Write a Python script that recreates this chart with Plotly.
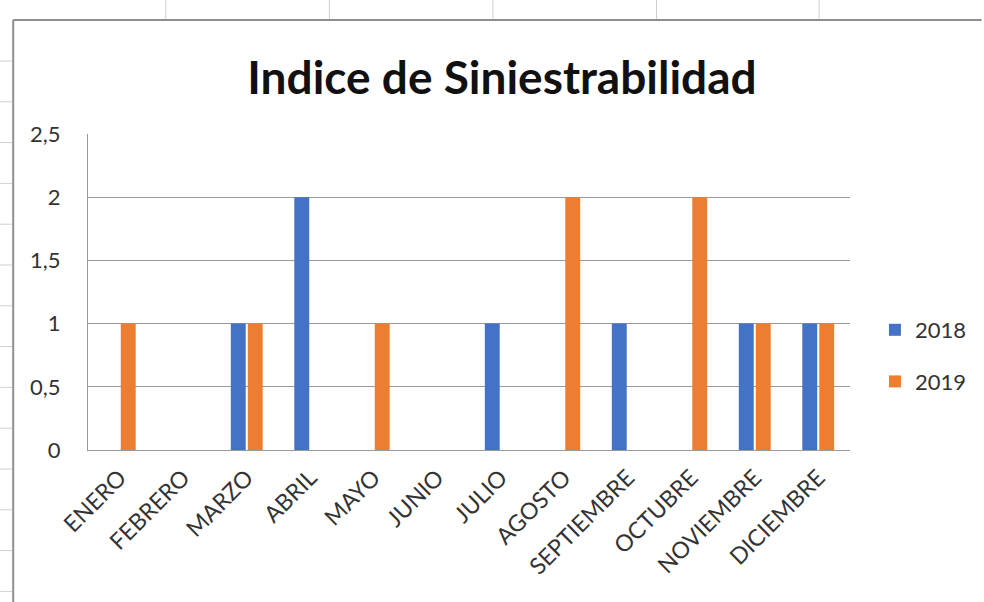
import plotly.graph_objects as go

meses = ["ENERO", "FEBRERO", "MARZO", "ABRIL", "MAYO", "JUNIO", "JULIO",
         "AGOSTO", "SEPTIEMBRE", "OCTUBRE", "NOVIEMBRE", "DICIEMBRE"]
valores_2018 = [0, 0, 1, 2, 0, 0, 1, 0, 1, 0, 1, 1]
valores_2019 = [1, 0, 1, 0, 1, 0, 0, 2, 0, 2, 1, 1]
titulo = "Indice de Siniestrabilidad"

W, H = 984, 602
L, R, T, B = 88, 852, 134, 450  # plot area in pixels


def px(x):
    return (x - L) / (R - L)


def py(y):
    return (B - y) / (B - T)


FONT = "Lato, 'Open Sans', sans-serif"

fig = go.Figure()
fig.add_trace(go.Bar(x=meses, y=valores_2018, name="2018", legendgroup="a",
                     marker=dict(color="#4472C4", line=dict(width=0))))
fig.add_trace(go.Bar(x=meses, y=valores_2019, name="2019", legendgroup="b",
                     marker=dict(color="#ED7D31", line=dict(width=0))))

shapes = []
frame = "#8f8f8f"
cell = "#cfcfcf"
# spreadsheet cell lines outside the chart
for xv in [166, 330, 494, 658, 821]:
    shapes.append(dict(type="line", xref="paper", yref="paper",
                       x0=px(xv), x1=px(xv), y0=py(0), y1=py(20),
                       line=dict(color=cell, width=1)))
yv = 61
while yv < H:
    shapes.append(dict(type="line", xref="paper", yref="paper",
                       x0=px(0), x1=px(12), y0=py(yv), y1=py(yv),
                       line=dict(color=cell, width=1)))
    yv += 40.8
# chart frame
shapes.append(dict(type="line", xref="paper", yref="paper",
                   x0=px(13), x1=px(13), y0=py(20), y1=py(H),
                   line=dict(color=frame, width=2)))
shapes.append(dict(type="line", xref="paper", yref="paper",
                   x0=px(13), x1=px(W), y0=py(20), y1=py(20),
                   line=dict(color=frame, width=2)))

fig.update_layout(
    width=W, height=H,
    margin=dict(l=L, r=W - R, t=T, b=H - B),
    paper_bgcolor="white", plot_bgcolor="white",
    separators=",.",
    font=dict(family=FONT, size=22, color="#333333"),
    title=dict(text="<b>" + titulo + "</b>", x=502 / W, xanchor="center",
               xref="container", yref="container",
               y=1 - 78 / H, yanchor="middle",
               font=dict(family=FONT, size=46, color="#111111")),
    barmode="group", bargap=0.466, bargroupgap=0.12,
    legend=dict(x=px(877), xanchor="left", y=py(356), yanchor="middle",
                font=dict(family=FONT, size=22, color="#333333"),
                tracegroupgap=20, bgcolor="rgba(0,0,0,0)"),
    showlegend=True,
    shapes=shapes,
    xaxis=dict(tickangle=-45, showgrid=False, showline=True,
               linecolor="#999999", linewidth=1.3, ticks="",
               ticklabelstandoff=4,
               tickfont=dict(family=FONT, size=23, color="#333333")),
    yaxis=dict(range=[0, 2.5], dtick=0.5, tick0=0, showgrid=True,
               gridcolor="#999999", gridwidth=1.3, showline=True,
               linecolor="#999999", linewidth=1.3, zeroline=False, ticks="",
               ticklabelstandoff=22,
               tickfont=dict(family=FONT, size=22, color="#333333")),
)

fig.write_html("out.html", config={"displayModeBar": False},
               post_script="document.body.style.margin='0px';")
